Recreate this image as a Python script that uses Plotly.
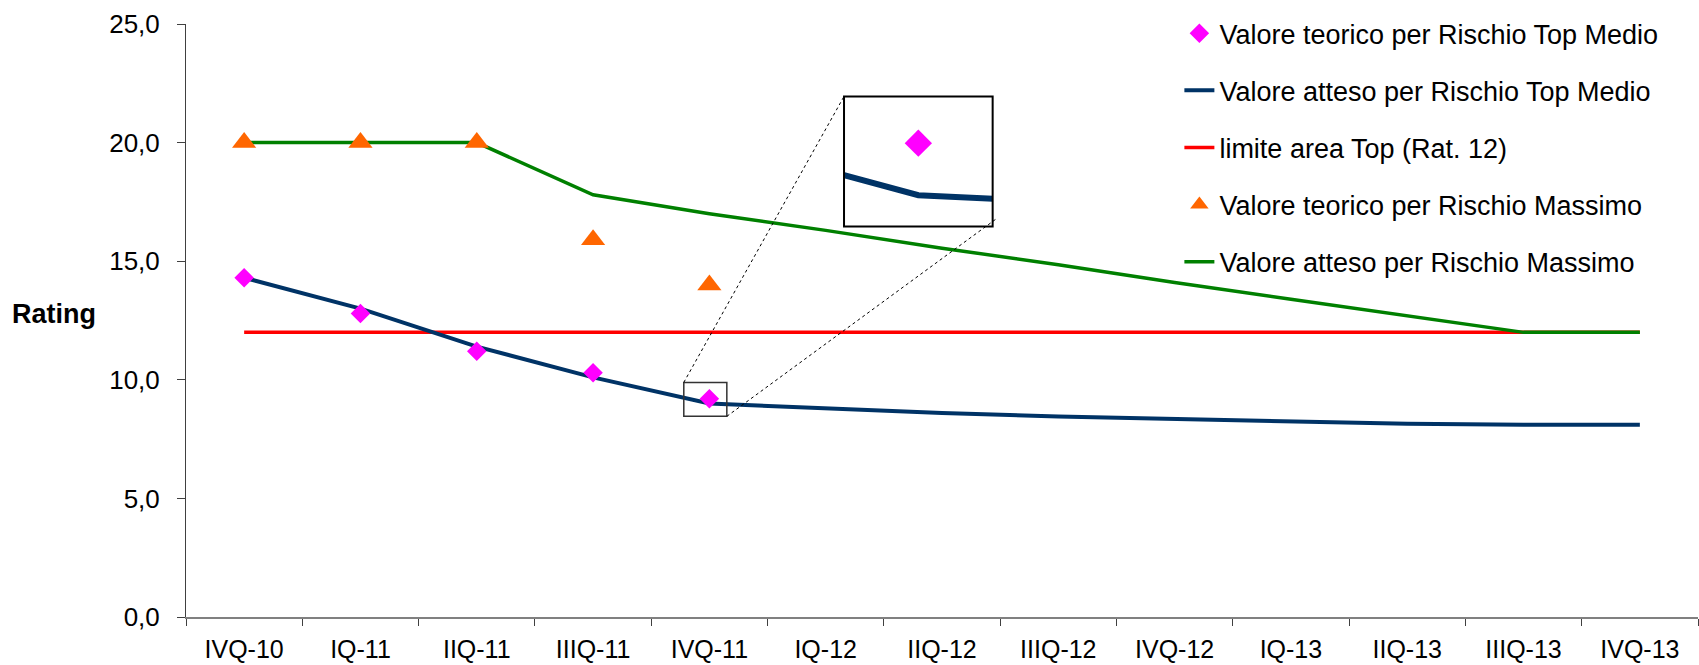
import plotly.graph_objects as go

categories = ["IVQ-10", "IQ-11", "IIQ-11", "IIIQ-11", "IVQ-11", "IQ-12", "IIQ-12",
              "IIIQ-12", "IVQ-12", "IQ-13", "IIQ-13", "IIIQ-13", "IVQ-13"]
teorico_top_medio = [14.3, 12.8, 11.2, 10.3, 9.2, None, None, None, None, None, None, None, None]
atteso_top_medio = [14.3, 13.0, 11.4, 10.1, 9.0, 8.8, 8.6, 8.45, 8.35, 8.25, 8.15, 8.1, 8.1]
limite_top = [12.0] * 13
teorico_massimo = [20.0, 20.0, 20.0, 15.9, 14.0, None, None, None, None, None, None, None, None]
atteso_massimo = [20.0, 20.0, 20.0, 17.8, 17.0, 16.3, 15.55, 14.85, 14.1, 13.4, 12.7, 12.0, 12.0]
y_ticks = [0, 5, 10, 15, 20, 25]

FONT = "Arial, Liberation Sans, sans-serif"
C_MAG = "#FF00FF"
C_BLUE = "#003366"
C_RED = "#FF0000"
C_ORANGE = "#FF6600"
C_GREEN = "#008000"

W, H = 1699, 665
ML, MR, MT, MB = 186, 1, 24, 48
PW = W - ML - MR
PH = H - MT - MB

fig = go.Figure()

# main traces (draw order: lines below markers)
fig.add_trace(go.Scatter(x=categories, y=limite_top, mode="lines", name="limite area Top (Rat. 12)",
                         line=dict(color=C_RED, width=3.5), legendrank=3, legendgroup="c"))
fig.add_trace(go.Scatter(x=categories, y=atteso_massimo, mode="lines", name="Valore atteso per Rischio Massimo",
                         line=dict(color=C_GREEN, width=3.5), legendrank=5, legendgroup="e"))
fig.add_trace(go.Scatter(x=categories, y=atteso_top_medio, mode="lines", name="Valore atteso per Rischio Top Medio",
                         line=dict(color=C_BLUE, width=4), legendrank=2, legendgroup="b"))
fig.add_trace(go.Scatter(x=categories, y=teorico_massimo, mode="markers", name="Valore teorico per Rischio Massimo",
                         marker=dict(symbol="triangle-up", color=C_ORANGE, size=21), legendrank=4, legendgroup="d"))
fig.add_trace(go.Scatter(x=categories, y=teorico_top_medio, mode="markers", name="Valore teorico per Rischio Top Medio",
                         marker=dict(symbol="diamond", color=C_MAG, size=15), legendrank=1, legendgroup="a"))

# inset (magnified view around IVQ-11)
fig.add_trace(go.Scatter(x=categories, y=atteso_top_medio, mode="lines", showlegend=False,
                         line=dict(color=C_BLUE, width=6), xaxis="x2", yaxis="y2"))
fig.add_trace(go.Scatter(x=categories, y=teorico_top_medio, mode="markers", showlegend=False,
                         marker=dict(symbol="diamond", color=C_MAG, size=21), xaxis="x2", yaxis="y2"))

# inset geometry
inset_x = [0.4352, 0.5335]
inset_y = [0.6587, 0.8779]
small_x = [3.78, 4.15]
small_y = [8.46, 9.89]


def px_x(idx):
    return (idx + 0.5) / len(categories)


def px_y(v):
    return v / 25.0


shapes = [
    dict(type="rect", xref="x2 domain", yref="y2 domain", x0=0, x1=1, y0=0, y1=1,
         line=dict(color="black", width=2)),
    dict(type="rect", xref="x", yref="y", x0=small_x[0], x1=small_x[1], y0=small_y[0], y1=small_y[1],
         line=dict(color="#333333", width=1.5)),
    dict(type="line", xref="paper", yref="paper", x0=px_x(small_x[0]), y0=px_y(small_y[1]),
         x1=inset_x[0], y1=inset_y[1], line=dict(color="black", width=1, dash="dot")),
    dict(type="line", xref="paper", yref="paper", x0=px_x(small_x[1]), y0=px_y(small_y[0]),
         x1=inset_x[1] + 0.002, y1=inset_y[0] + 0.012, line=dict(color="black", width=1, dash="dot")),
]

fig.update_layout(
    width=W, height=H, autosize=False,
    margin=dict(l=ML, r=MR, t=MT, b=MB, autoexpand=False),
    paper_bgcolor="white", plot_bgcolor="white",
    separators=",.",
    font=dict(family=FONT, color="black"),
    showlegend=True,
    legend=dict(x=0.657, y=1.025, xanchor="left", yanchor="top", bgcolor="rgba(0,0,0,0)",
                font=dict(family=FONT, size=27, color="black"), traceorder="grouped",
                tracegroupgap=19),
    xaxis=dict(type="category", categoryorder="array", categoryarray=categories,
               range=[-0.5, len(categories) - 0.5], showgrid=False, zeroline=False,
               showline=True, linecolor="#808080", linewidth=2, automargin=False,
               ticks="outside", ticklen=7, tickcolor="#404040", tickwidth=1, tickson="boundaries",
               tickfont=dict(family=FONT, size=25, color="black"), ticklabelstandoff=9),
    yaxis=dict(range=[0, 25], tickvals=y_ticks, tickformat=".1f", showgrid=False, zeroline=False,
               showline=True, linecolor="#404040", linewidth=1, automargin=False,
               ticks="outside", ticklen=8, tickcolor="#404040", tickwidth=1,
               tickfont=dict(family=FONT, size=26, color="black"), ticklabelstandoff=12),
    xaxis2=dict(domain=inset_x, anchor="y2", type="category", categoryorder="array",
                categoryarray=categories, range=[3.93, 4.07], visible=False),
    yaxis2=dict(domain=inset_y, anchor="x2", range=[8.88, 9.38], visible=False),
    shapes=shapes,
    annotations=[dict(text="<b>Rating</b>", xref="paper", yref="paper", x=(10 - ML) / PW,
                      y=(617.3 - 314) / PH, xanchor="left", yanchor="middle", showarrow=False,
                      font=dict(family=FONT, size=27, color="black"))],
)

fig.write_html("out.html")
